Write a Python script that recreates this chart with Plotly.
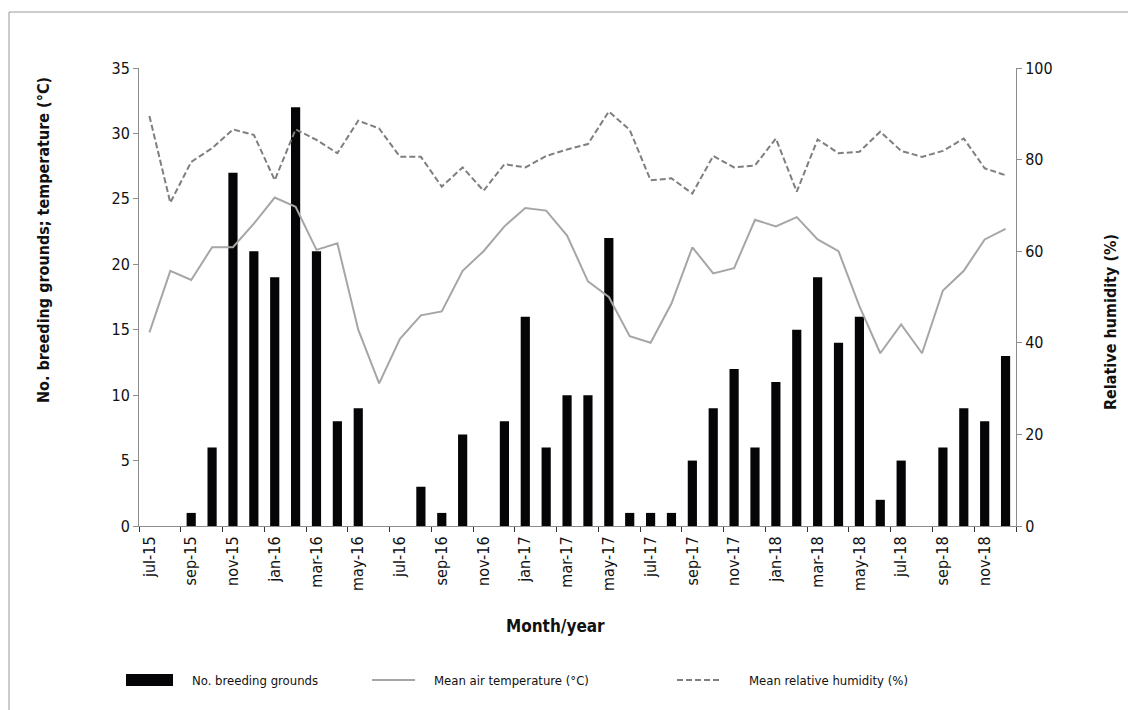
import plotly.graph_objects as go

# Monthly series, Jul 2015 - Dec 2018
months = [
    "jul-15", "aug-15", "sep-15", "oct-15", "nov-15", "dec-15",
    "jan-16", "feb-16", "mar-16", "apr-16", "may-16", "jun-16",
    "jul-16", "aug-16", "sep-16", "oct-16", "nov-16", "dec-16",
    "jan-17", "feb-17", "mar-17", "apr-17", "may-17", "jun-17",
    "jul-17", "aug-17", "sep-17", "oct-17", "nov-17", "dec-17",
    "jan-18", "feb-18", "mar-18", "apr-18", "may-18", "jun-18",
    "jul-18", "aug-18", "sep-18", "oct-18", "nov-18", "dec-18",
]

breeding_grounds = [
    0, 0, 1, 6, 27, 21, 19, 32, 21, 8, 9, 0,
    0, 3, 1, 7, 0, 8, 16, 6, 10, 10, 22, 1,
    1, 1, 5, 9, 12, 6, 11, 15, 19, 14, 16, 2,
    5, 0, 6, 9, 8, 13,
]

air_temperature = [
    14.8, 19.5, 18.8, 21.3, 21.3, 23.1, 25.1, 24.4, 21.1, 21.6, 15.0, 10.9,
    14.3, 16.1, 16.4, 19.5, 21.0, 22.9, 24.3, 24.1, 22.2, 18.7, 17.5, 14.5,
    14.0, 17.0, 21.3, 19.3, 19.7, 23.4, 22.9, 23.6, 21.9, 21.0, 16.8, 13.2,
    15.4, 13.2, 18.0, 19.5, 21.9, 22.7,
]

relative_humidity = [
    89.5, 70.6, 79.5, 82.5, 86.6, 85.4, 75.5, 86.6, 84.3, 81.4, 88.5, 86.8,
    80.6, 80.6, 74.1, 78.3, 73.2, 79.0, 78.3, 80.8, 82.2, 83.4, 90.5, 86.5,
    75.5, 75.9, 72.6, 80.8, 78.3, 78.7, 84.6, 73.0, 84.4, 81.4, 81.7, 86.1,
    81.9, 80.6, 81.9, 84.6, 78.1, 76.6,
]

left_ticks = [0, 5, 10, 15, 20, 25, 30, 35]
right_ticks = [0, 20, 40, 60, 80, 100]

x_idx = list(range(len(months)))
label_idx = x_idx[::2]
label_txt = months[::2]

W, H = 1128, 710
ML, MR, MT, MB = 139, 112, 68, 184
PW, PH = W - ML - MR, H - MT - MB


def px(x):
    return (x - ML) / PW


def py(y):
    return (H - MB - y) / PH


FONT = "Liberation Sans Narrow, DejaVu Sans Condensed, Arial Narrow, sans-serif"
AXIS_GREY = "#8c8c8c"
TEMP_GREY = "#a6a6a6"
HUM_GREY = "#7f7f7f"
TEXT = "#111111"

fig = go.Figure()

fig.add_trace(go.Bar(
    x=x_idx, y=breeding_grounds, name="No. breeding grounds",
    marker=dict(color="#050508", line=dict(width=0)),
    yaxis="y", showlegend=False,
))
fig.add_trace(go.Scatter(
    x=x_idx, y=air_temperature, name="Mean air temperature (°C)",
    mode="lines", line=dict(color=TEMP_GREY, width=2),
    yaxis="y", showlegend=False,
))
fig.add_trace(go.Scatter(
    x=x_idx, y=relative_humidity, name="Mean relative humidity (%)",
    mode="lines", line=dict(color=HUM_GREY, width=2, dash="6px,3px"),
    yaxis="y2", showlegend=False,
))

fig.update_layout(
    width=W, height=H,
    margin=dict(l=ML, r=MR, t=MT, b=MB, pad=0),
    paper_bgcolor="white", plot_bgcolor="white",
    bargap=0.56,
    font=dict(family=FONT, color=TEXT),
    xaxis=dict(
        range=[-0.5, len(months) - 0.5],
        tickmode="array", tickvals=label_idx, ticktext=label_txt,
        tickangle=-90, ticks="", ticklabelstandoff=3,
        tickfont=dict(size=16, family=FONT, color=TEXT),
        showline=True, linecolor=AXIS_GREY, linewidth=1,
        showgrid=False, zeroline=False,
        minor=dict(tick0=-0.5, dtick=2, ticks="outside", ticklen=5,
                   tickcolor="#333333", tickwidth=1, showgrid=False),
    ),
    yaxis=dict(
        range=[0, 35], tickmode="array", tickvals=left_ticks,
        ticks="outside", ticklen=5, tickcolor=AXIS_GREY,
        tickfont=dict(size=16, family=FONT, color=TEXT),
        showline=True, linecolor=AXIS_GREY, linewidth=1,
        showgrid=False, zeroline=False,
    ),
    yaxis2=dict(
        range=[0, 100], tickmode="array", tickvals=right_ticks,
        overlaying="y", side="right",
        ticks="outside", ticklen=5, tickcolor=AXIS_GREY,
        tickfont=dict(size=16, family=FONT, color=TEXT),
        showline=True, linecolor=AXIS_GREY, linewidth=1,
        showgrid=False, zeroline=False,
    ),
)

annotations = [
    dict(text="<b>No. breeding grounds; temperature (°C)</b>",
         x=px(43), y=py(240), textangle=-90,
         font=dict(size=16, family=FONT, color=TEXT)),
    dict(text="<b>Relative humidity (%)</b>",
         x=px(1110), y=py(322), textangle=-90,
         font=dict(size=16, family=FONT, color=TEXT)),
    dict(text="<b>Month/year</b>",
         x=px(555), y=py(626),
         font=dict(size=17, family=FONT, color=TEXT)),
]

# Legend row drawn beneath the axis title
LEG_Y = 680
legend_items = [
    ("No. breeding grounds", 190),
    ("Mean air temperature (°C)", 432),
    ("Mean relative humidity (%)", 747),
]
for text, x0 in legend_items:
    annotations.append(dict(
        text=text, x=px(x0), y=py(LEG_Y), xanchor="left",
        font=dict(size=13, family=FONT, color=TEXT),
    ))
for a in annotations:
    a.update(xref="paper", yref="paper", showarrow=False)
    a.setdefault("xanchor", "center")
    a.setdefault("yanchor", "middle")

shapes = [
    # bar swatch
    dict(type="rect", x0=px(126), x1=px(173), y0=py(LEG_Y - 6), y1=py(LEG_Y + 6),
         fillcolor="#050508", line=dict(width=0)),
    # temperature swatch
    dict(type="line", x0=px(372), x1=px(415), y0=py(LEG_Y), y1=py(LEG_Y),
         line=dict(color=TEMP_GREY, width=2)),
    # humidity swatch
    dict(type="line", x0=px(677), x1=px(720), y0=py(LEG_Y), y1=py(LEG_Y),
         line=dict(color=HUM_GREY, width=2, dash="6px,3px")),
    # outer frame (top and left edges)
    dict(type="line", x0=px(9), x1=px(W + 5), y0=py(12), y1=py(12),
         line=dict(color="#9a9a9a", width=1)),
    dict(type="line", x0=px(9), x1=px(9), y0=py(12), y1=py(H + 5),
         line=dict(color="#9a9a9a", width=1)),
]
for s in shapes:
    s.update(xref="paper", yref="paper")

fig.update_layout(annotations=annotations, shapes=shapes)

fig.write_html("out.html")
